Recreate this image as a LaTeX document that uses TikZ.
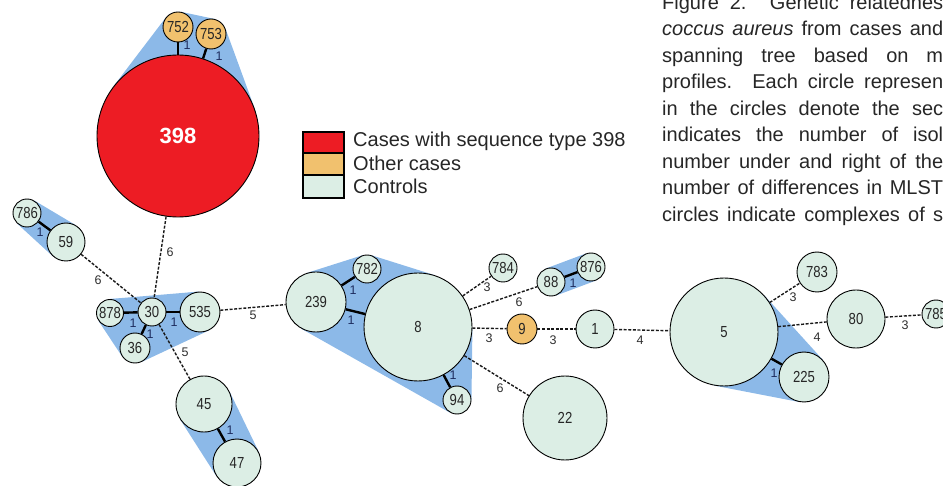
\documentclass[tikz,border=0pt]{standalone}
\usepackage{fontspec}
\setmainfont{Liberation Sans}
\newfontfamily\numfont[FakeStretch=0.82]{Liberation Sans}
\usetikzlibrary{calc}
\definecolor{stred}{RGB}{237,28,36}
\definecolor{othcase}{RGB}{241,193,110}
\definecolor{ctrlcol}{RGB}{220,238,229}
\definecolor{hullblue}{RGB}{140,185,232}
\definecolor{lblnavy}{RGB}{30,45,95}
\definecolor{lblgray}{RGB}{45,45,45}
\pgfdeclarelayer{hulls}
\pgfdeclarelayer{links}
\pgfsetlayers{hulls,links,main}
\newcommand\hullpair[2]{%
  \fill[hullblue] let \p1=(#1.center), \p2=(#2.center), \p3=(#1.east), \p4=(#2.east),
    \n1={\x3-\x1}, \n2={\x4-\x2},
    \n3={veclen(\x2-\x1,\y2-\y1)}, \n4={atan2(\y2-\y1,\x2-\x1)},
    \n5={acos((\n1-\n2)/\n3)} in
    ($(\p1)+(\n4+\n5:\n1)$) -- ($(\p2)+(\n4+\n5:\n2)$) --
    ($(\p2)+(\n4-\n5:\n2)$) -- ($(\p1)+(\n4-\n5:\n1)$) -- cycle;}
\tikzset{
  st/.style={circle, draw=black, line width=0.9pt, inner sep=0pt,
    font=\numfont\fontsize{16}{16}\selectfont, text=black!85},
  ctrl/.style={st, fill=ctrlcol},
  oth/.style={st, fill=othcase},
  s398/.style={st, fill=stred, text=white, font=\bfseries\fontsize{22}{22}\selectfont},
  solidlink/.style={line width=2.4pt, black},
  dashlink/.style={line width=1.4pt, black!90, dash pattern=on 3pt off 1.6pt},
  onelbl/.style={inner sep=0pt, text=lblnavy, font=\fontsize{12.5}{12.5}\selectfont},
  diflbl/.style={inner sep=0pt, text=lblgray, font=\fontsize{12.5}{12.5}\selectfont},
  captxt/.style={inner sep=0pt, anchor=base west, font=\fontsize{20}{20}\selectfont, text=black!85},
  lgbox/.style={draw=black, line width=2pt, inner sep=0pt, minimum width=41pt},
  lgtxt/.style={inner sep=0pt, anchor=base west, font=\fontsize{20}{20}\selectfont, text=black!85},
}
\begin{document}
\begin{tikzpicture}[x=1pt,y=1pt]
\useasboundingbox (0,0) rectangle (943,-486);
% ---- nodes ----
\node[s398, minimum size=162pt] (n398) at (178,-136) {398};
\node[oth, minimum size=30pt] (n752) at (178,-27) {752};
\node[oth, minimum size=30pt] (n753) at (211,-34) {753};
\node[ctrl, minimum size=28pt] (n786) at (27,-213) {786};
\node[ctrl, minimum size=38pt] (n59) at (66,-242) {59};
\node[ctrl, minimum size=28pt] (n30) at (152,-312) {30};
\node[ctrl, minimum size=27pt] (n878) at (110,-313) {878};
\node[ctrl, minimum size=40pt] (n535) at (200,-312) {535};
\node[ctrl, minimum size=30pt] (n36) at (135,-348) {36};
\node[ctrl, minimum size=56pt] (n45) at (204,-404) {45};
\node[ctrl, minimum size=48pt] (n47) at (237,-463) {47};
\node[ctrl, minimum size=60pt] (n239) at (316,-302) {239};
\node[ctrl, minimum size=28pt] (n782) at (367,-269) {782};
\node[ctrl, minimum size=108pt] (n8) at (418,-327) {8};
\node[ctrl, minimum size=28pt] (n94) at (457,-400) {94};
\node[ctrl, minimum size=28pt] (n784) at (503,-268) {784};
\node[ctrl, minimum size=28pt] (n88) at (551,-282) {88};
\node[ctrl, minimum size=28pt] (n876) at (591,-267) {876};
\node[oth, minimum size=30pt] (n9) at (522,-329) {9};
\node[ctrl, minimum size=38pt] (n1) at (595,-329) {1};
\node[ctrl, minimum size=84pt] (n22) at (565,-418) {22};
\node[ctrl, minimum size=108pt] (n5) at (724,-332) {5};
\node[ctrl, minimum size=40pt] (n783) at (817,-272) {783};
\node[ctrl, minimum size=58pt] (n80) at (856,-319) {80};
\node[ctrl, minimum size=50pt] (n225) at (804,-377) {225};
\node[ctrl, minimum size=28pt] (n785) at (936,-314) {785};
% ---- hulls ----
\begin{pgfonlayer}{hulls}
\hullpair{n752}{n398}\hullpair{n753}{n398}\hullpair{n752}{n753}
\fill[hullblue] (n752.center) -- (n753.center) -- (n398.center) -- cycle;
\hullpair{n786}{n59}
\hullpair{n878}{n30}\hullpair{n30}{n535}\hullpair{n30}{n36}
\hullpair{n878}{n535}\hullpair{n535}{n36}\hullpair{n878}{n36}
\fill[hullblue] (n878.center) -- (n535.center) -- (n36.center) -- cycle;
\hullpair{n45}{n47}
\hullpair{n239}{n782}\hullpair{n782}{n8}\hullpair{n8}{n94}\hullpair{n94}{n239}
\hullpair{n239}{n8}\hullpair{n782}{n94}
\fill[hullblue] (n239.center) -- (n782.center) -- (n8.center) -- (n94.center) -- cycle;
\hullpair{n88}{n876}
\hullpair{n5}{n225}
\end{pgfonlayer}
% ---- links ----
\begin{pgfonlayer}{links}
\draw[solidlink] (n752) -- (n398);
\draw[solidlink] (n753) -- (n398);
\draw[solidlink] (n786) -- (n59);
\draw[solidlink] (n878) -- (n30);
\draw[solidlink] (n30) -- (n535);
\draw[solidlink] (n30) -- (n36);
\draw[solidlink] (n45) -- (n47);
\draw[solidlink] (n239) -- (n782);
\draw[solidlink] (n239) -- (n8);
\draw[solidlink] (n8) -- (n94);
\draw[solidlink] (n88) -- (n876);
\draw[solidlink] (n5) -- (n225);
\draw[dashlink] (n398) -- (n30);
\draw[dashlink] (n59) -- (n30);
\draw[dashlink] (n30) -- (n45);
\draw[dashlink] (n535) -- (n239);
\draw[dashlink] (n8) -- (n784);
\draw[dashlink] (n8) -- (n88);
\draw[dashlink] (n8) -- (n9);
\draw[dashlink] (n9) -- (n1);
\draw[dashlink] (n8) -- (n22);
\draw[dashlink] (n1) -- (n5);
\draw[dashlink] (n5) -- (n783);
\draw[dashlink] (n5) -- (n80);
\draw[dashlink] (n80) -- (n785);
\end{pgfonlayer}
% ---- link labels ----
\node[onelbl] (k1) at (187,-45) {1};
\node[onelbl] (k2) at (219,-56) {1};
\node[onelbl] (k3) at (40,-232) {1};
\node[diflbl] (k4) at (98,-280) {6};
\node[diflbl] (k5) at (170,-252) {6};
\node[onelbl] (k6) at (133,-323) {1};
\node[onelbl] (k7) at (174,-322) {1};
\node[onelbl] (k8) at (150,-334) {1};
\node[diflbl] (k9) at (185,-352) {5};
\node[onelbl] (k10) at (230,-430) {1};
\node[diflbl] (k11) at (253,-315) {5};
\node[onelbl] (k12) at (353,-290) {1};
\node[onelbl] (k13) at (351,-320) {1};
\node[onelbl] (k14) at (453,-375) {1};
\node[diflbl] (k15) at (487,-287) {3};
\node[diflbl] (k16) at (519,-302) {6};
\node[onelbl] (k17) at (573,-283) {1};
\node[diflbl] (k18) at (489,-338) {3};
\node[diflbl] (k19) at (553,-340) {3};
\node[diflbl] (k20) at (500,-388) {6};
\node[diflbl] (k21) at (640,-340) {4};
\node[diflbl] (k22) at (793,-297) {3};
\node[diflbl] (k23) at (817,-337) {4};
\node[onelbl] (k24) at (774,-373) {1};
\node[diflbl] (k25) at (905,-325) {3};
% ---- legend ----
\node[lgbox, fill=stred, minimum height=21pt] (lgA) at (323.5,-142.5) {};
\node[lgbox, fill=othcase, minimum height=22pt] (lgB) at (323.5,-164) {};
\node[lgbox, fill=ctrlcol, minimum height=23pt] (lgC) at (323.5,-186.5) {};
\node[lgtxt] (ltA) at (353,-147) {Cases with sequence type 398};
\node[lgtxt] (ltB) at (353,-170.5) {Other cases};
\node[lgtxt] (ltC) at (353,-194) {Controls};
% ---- caption ----
\node[captxt] (c1) at (662,-9.5) {\makebox[281pt][s]{Figure 2. Genetic relatednes}};
\node[captxt] (c2) at (662,-36) {\makebox[281pt][s]{\textit{coccus aureus} from cases and}};
\node[captxt] (c3) at (662,-62.5) {\makebox[281pt][s]{spanning tree based on m}};
\node[captxt] (c4) at (662,-89) {\makebox[281pt][s]{profiles. Each circle represen}};
\node[captxt] (c5) at (662,-115.5) {\makebox[281pt][s]{in the circles denote the sec}};
\node[captxt] (c6) at (662,-142) {\makebox[281pt][s]{indicates the number of isol}};
\node[captxt] (c7) at (662,-168.5) {\makebox[281pt][s]{number under and right of the}};
\node[captxt] (c8) at (662,-195) {\makebox[281pt][s]{number of differences in MLST}};
\node[captxt] (c9) at (662,-221.5) {\makebox[281pt][s]{circles indicate complexes of s}};
\end{tikzpicture}
\end{document}
